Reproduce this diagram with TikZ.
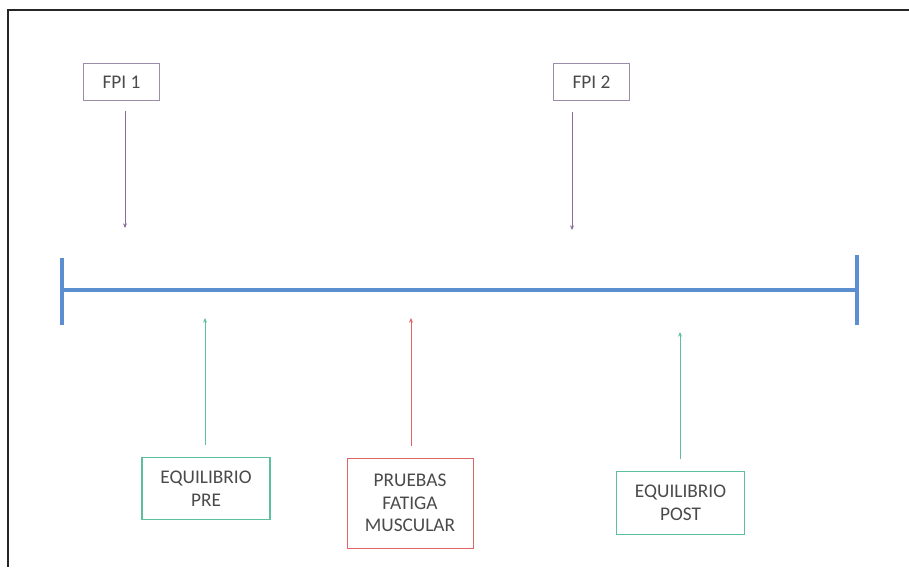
\documentclass[tikz,border=0pt]{standalone}
\usepackage{fontspec}
\setmainfont{Carlito}
\usepackage{xcolor}
\usetikzlibrary{arrows.meta, positioning}

\definecolor{lineblue}{HTML}{5B8FD0}
\definecolor{fpiframe}{HTML}{9C8CA8}
\definecolor{fpiline}{HTML}{8A6A9A}
\definecolor{eqframe}{HTML}{5DBF9E}
\definecolor{fatframe}{HTML}{E06666}
\definecolor{txtgray}{HTML}{4A4A4A}

\begin{document}
\begin{tikzpicture}[
    x=0.75pt, y=-0.75pt,
    fpibox/.style={rectangle, draw=fpiframe, line width=0.8pt, minimum width=57pt, minimum height=28pt, align=center, text=txtgray, font=\fontsize{14.5}{17}\selectfont},
    eqbox/.style={rectangle, draw=eqframe, line width=0.8pt, minimum width=96pt, minimum height=47pt, align=center, text=txtgray, font=\fontsize{14.5}{17}\selectfont},
    fatbox/.style={rectangle, draw=fatframe, line width=0.7pt, minimum width=94.5pt, minimum height=67.5pt, align=center, text=txtgray, font=\fontsize{14.5}{17}\selectfont},
    arrow/.style={-{Stealth[length=3.5pt, width=3pt]}, line width=0.6pt}
]
    \useasboundingbox (0,0) rectangle (909,567);
    % frame
    \draw[line width=1.6pt, black!85] (909,10) -- (8,10) -- (8,567);

    % time line
    \coordinate (start) at (62,290);
    \coordinate (end) at (857,290);
    \draw[line width=3pt, lineblue] (start) -- (end);
    \draw[line width=3pt, lineblue] (62,258) -- (62,325);
    \draw[line width=3pt, lineblue] (857,255) -- (857,325);

    % boxes
    \node[fpibox] (fpiA) at (121.5,82) {FPI 1};
    \node[fpibox] (fpiB) at (591.5,82) {FPI 2};
    \node[eqbox] (eqpre) at (206,488.5) {EQUILIBRIO\\PRE};
    \node[fatbox] (fatiga) at (410,503) {PRUEBAS\\FATIGA\\MUSCULAR};
    \node[eqbox] (eqpost) at (680.5,503) {EQUILIBRIO\\POST};

    % arrow tips
    \coordinate (tipA) at (125,228);
    \coordinate (tipB) at (572,230);
    \coordinate (tippre) at (205,318);
    \coordinate (tipfat) at (411,318);
    \coordinate (tippost) at (680,332);

    \draw[arrow, fpiline, shorten <=7pt] (fpiA.south -| tipA) -- (tipA);
    \draw[arrow, fpiline, shorten <=8pt] (fpiB.south -| tipB) -- (tipB);
    \draw[arrow, eqframe, shorten <=9pt] (eqpre.north -| tippre) -- (tippre);
    \draw[arrow, fatframe, shorten <=9pt] (fatiga.north -| tipfat) -- (tipfat);
    \draw[arrow, eqframe, shorten <=9pt] (eqpost.north -| tippost) -- (tippost);
\end{tikzpicture}
\end{document}
